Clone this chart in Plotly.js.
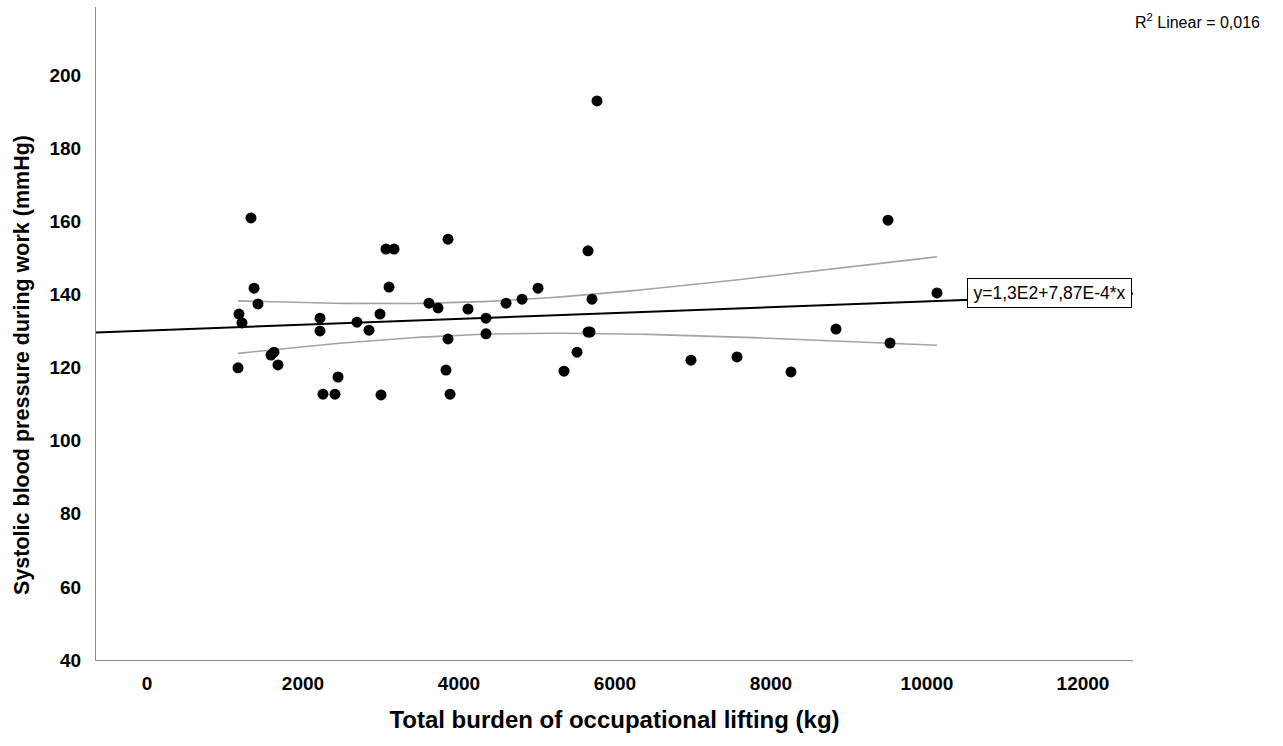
<!DOCTYPE html>
<html>
<head>
<meta charset="utf-8">
<script src="https://cdn.plot.ly/plotly-3.0.1.min.js"></script>
<style>html,body{margin:0;padding:0;background:#fff;}#chart{width:1283px;height:746px;}</style>
</head>
<body>
<div id="chart"></div>
<script>
// Data
const liftingKg = [1167, 1179, 1218, 1333, 1372, 1423, 1590, 1628, 1679,
  2218, 2218, 2256, 2410, 2449, 2692, 2846, 2987, 3000,
  3064, 3167, 3103, 3615, 3731, 3859, 3859, 3833, 3885,
  4115, 4346, 4346, 4603, 4808, 5013, 5346, 5513,
  5654, 5705, 5654, 5680, 5769,
  6974, 7564, 8256, 8833, 9500, 9526, 10128];
const systolicBP = [119.9, 134.6, 132.2, 160.9, 141.7, 137.4, 123.4, 124.2, 120.7,
  133.5, 130.0, 112.7, 112.7, 117.4, 132.4, 130.2, 134.6, 112.5,
  152.4, 152.4, 142.0, 137.6, 136.3, 155.1, 127.8, 119.3, 112.7,
  136.0, 133.5, 129.2, 137.6, 138.7, 141.7, 119.0, 124.2,
  151.9, 138.7, 129.7, 129.7, 192.9,
  122.0, 122.9, 118.8, 130.5, 160.3, 126.7, 140.4];
const xTickVals = [0, 2000, 4000, 6000, 8000, 10000, 12000];
const yTickVals = [40, 60, 80, 100, 120, 140, 160, 180, 200];
const xTitle = 'Total burden of occupational lifting (kg)';
const yTitle = 'Systolic blood pressure during work (mmHg)';
const fitLabel = 'y=1,3E2+7,87E-4*x';
const r2Label = 'R<sup>2</sup> Linear = 0,016';
const xRange = [-654, 12641];
const yRange = [40, 218.6];

// Ordinary least squares fit with 95% mean confidence band
const n = liftingKg.length;
const xMean = liftingKg.reduce((a, b) => a + b, 0) / n;
const yMean = systolicBP.reduce((a, b) => a + b, 0) / n;
let sxx = 0, sxy = 0;
for (let i = 0; i < n; i++) {
  sxx += (liftingKg[i] - xMean) ** 2;
  sxy += (liftingKg[i] - xMean) * (systolicBP[i] - yMean);
}
const slope = sxy / sxx;
const intercept = yMean - slope * xMean;
let sse = 0;
for (let i = 0; i < n; i++) sse += (systolicBP[i] - (intercept + slope * liftingKg[i])) ** 2;
const se = Math.sqrt(sse / (n - 2));
const tCrit = 2.014;
const xMin = Math.min(...liftingKg), xMax = Math.max(...liftingKg);
const bandX = [], bandUp = [], bandLo = [];
for (let k = 0; k <= 80; k++) {
  const xv = xMin + (xMax - xMin) * k / 80;
  const yh = intercept + slope * xv;
  const hw = tCrit * se * Math.sqrt(1 / n + (xv - xMean) ** 2 / sxx);
  bandX.push(xv); bandUp.push(yh + hw); bandLo.push(yh - hw);
}

const font = 'Liberation Sans, Arial, sans-serif';
const traces = [
  {x: bandX, y: bandUp, mode: 'lines', line: {color: '#a3a3a3', width: 1.6}, hoverinfo: 'skip', showlegend: false},
  {x: bandX, y: bandLo, mode: 'lines', line: {color: '#a3a3a3', width: 1.6}, hoverinfo: 'skip', showlegend: false},
  {x: xRange, y: xRange.map(v => intercept + slope * v), mode: 'lines', line: {color: '#000', width: 1.9}, hoverinfo: 'skip', showlegend: false},
  {x: liftingKg, y: systolicBP, mode: 'markers', marker: {color: '#000', size: 11}, showlegend: false}
];

const layout = {
  width: 1283, height: 746,
  margin: {l: 96, r: 150, t: 7, b: 86, pad: 0},
  paper_bgcolor: '#fff', plot_bgcolor: '#fff',
  showlegend: false,
  font: {family: font, color: '#000'},
  xaxis: {
    range: xRange, tickvals: xTickVals, ticktext: xTickVals.map(String),
    showgrid: false, zeroline: false, showline: true, linecolor: '#8c8c8c', linewidth: 1,
    ticks: '', ticklabelstandoff: 6,
    tickfont: {family: font, size: 19, weight: 'bold', color: '#000'},
    title: {text: xTitle, font: {family: font, size: 24, weight: 'bold', color: '#000'}, standoff: 18}
  },
  yaxis: {
    range: yRange, tickvals: yTickVals, ticktext: yTickVals.map(String),
    showgrid: false, zeroline: false, showline: true, linecolor: '#8c8c8c', linewidth: 1,
    ticks: '', ticklabelstandoff: 10,
    tickfont: {family: font, size: 19, weight: 'bold', color: '#000'}
  },
  annotations: [
    {xref: 'paper', yref: 'paper', x: -0.0714, y: 0.4518, xanchor: 'center', yanchor: 'middle',
     textangle: -90, text: yTitle, showarrow: false,
     font: {family: font, size: 21.5, weight: 'bold', color: '#000'}},
    {xref: 'paper', yref: 'paper', x: 1, y: 0.9786, xanchor: 'left', yanchor: 'middle',
     text: r2Label, showarrow: false, font: {family: font, size: 16, color: '#000'}},
    {xref: 'x', yref: 'y', x: 10513, y: 140.4, xanchor: 'left', yanchor: 'middle',
     text: fitLabel, showarrow: false, bgcolor: '#fff', bordercolor: '#000', borderwidth: 1,
     borderpad: 1, width: 161, height: 26, align: 'center',
     font: {family: font, size: 17.5, color: '#000'}}
  ]
};

Plotly.newPlot('chart', traces, layout, {displayModeBar: false, staticPlot: true});
</script>
</body>
</html>
